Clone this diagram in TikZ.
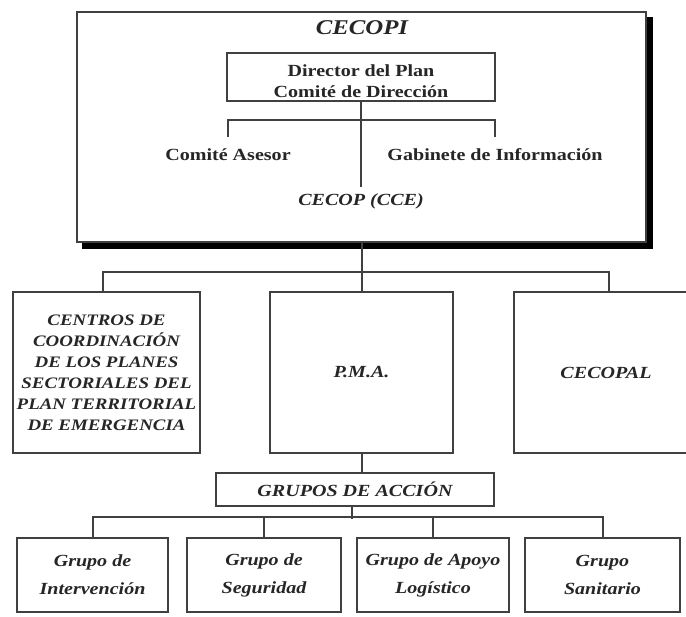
\documentclass[tikz,border=0pt]{standalone}
\usepackage{fontspec}
\setmainfont{Liberation Serif}[FakeStretch=1.18]
\definecolor{lc}{gray}{0.25}
\definecolor{tc}{gray}{0.15}
\begin{document}
\begin{tikzpicture}[x=1pt,y=-1pt,
  box/.style={draw=lc, line width=2pt, fill=white, inner sep=0pt, align=center, text=tc},
  conn/.style={draw=lc, line width=2pt},
  lbl/.style={inner sep=1pt, text=tc, align=center},
  bi/.style={font=\bfseries\itshape\fontsize{17}{21}\selectfont},
  bf/.style={font=\bfseries\fontsize{17}{21}\selectfont},
  lefttxt/.style={font=\bfseries\itshape\fontsize{16}{21}\selectfont},
  bot/.style={font=\bfseries\itshape\fontsize{17}{28}\selectfont},
  ttl/.style={font=\bfseries\itshape\fontsize{21}{24}\selectfont}]
\useasboundingbox (0,0) rectangle (686,617);
% CECOPI with drop shadow
\fill[black] (82,17) rectangle (653,249);
\node[box, minimum width=569pt, minimum height=229.5pt] (cecopi) at (361.5,127.25) {};
\node[lbl, ttl] (title) at (362,28) {CECOPI};
\node[box, minimum width=268pt, minimum height=48pt] (dir) at (361,77) {};
\node[lbl, bf] (dirt) at (361,81.5) {Director del Plan\\Comité de Dirección};
\node[lbl, bf] (ca) at (228,155) {Comité Asesor};
\node[lbl, bf] (gi) at (495,155) {Gabinete de Información};
\node[lbl, bi] (cce) at (361,201) {CECOP (CCE)};
\coordinate (caT) at (228,137);
\coordinate (giT) at (495,137);
\coordinate (brk) at (361,120);
\draw[conn] (caT) |- (brk) -| (giT);
\draw[conn] (dir.south) -- ([yshift=5pt]cce.north);
% second level
\node[box, minimum width=187pt, minimum height=161pt, lefttxt] (left) at (106.5,372.5)
  {CENTROS DE\\COORDINACIÓN\\DE LOS PLANES\\SECTORIALES DEL\\PLAN TERRITORIAL\\DE EMERGENCIA};
\node[box, minimum width=183pt, minimum height=161pt, bi] (pma) at (361.5,372.5) {P.M.A.};
\node[box, minimum width=190pt, minimum height=161pt, bi] (cecopal) at (609,372.5) {\hspace*{-6pt}CECOPAL};
\draw[conn] (cecopi.south) -- (pma.north);
\draw[conn] ([xshift=-3.5pt]left.north) -- ++(0,-19) -| (cecopal.north);
% groups
\node[box, minimum width=278pt, minimum height=33pt, bi] (grupos) at (355,489.5) {GRUPOS DE ACCIÓN};
\draw[conn] (pma.south) -- (pma.south |- grupos.north);
\node[box, minimum width=151pt, minimum height=74pt, bot] (b1) at (92.5,575) {Grupo de\\Intervención};
\node[box, minimum width=154pt, minimum height=74pt, bot] (b2) at (264,575) {Grupo de\\Seguridad};
\node[box, minimum width=152pt, minimum height=74pt, bot] (b3) at (433,575) {Grupo de Apoyo\\Logístico};
\node[box, minimum width=155pt, minimum height=74pt, bot] (b4) at (602.5,575) {Grupo\\Sanitario};
\draw[conn] ([xshift=-3pt]grupos.south) -- ++(0,12);
\draw[conn] (b1.north) -- ++(0,-20) -| (b4.north);
\draw[conn] (b2.north) -- ++(0,-20);
\draw[conn] (b3.north) -- ++(0,-20);
\end{tikzpicture}
\end{document}
